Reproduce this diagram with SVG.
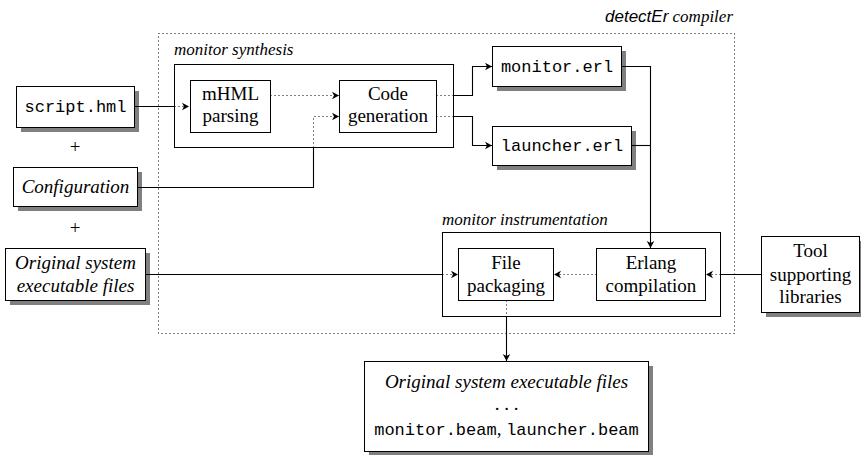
<svg xmlns="http://www.w3.org/2000/svg" width="861" height="455" viewBox="0 0 861 455">
<style>
.box{fill:#fff;stroke:#000;stroke-width:1}
.sh{fill:#808080}
.grp{fill:none;stroke:#000;stroke-width:1}
.outer{fill:none;stroke:#000;stroke-width:1;stroke-dasharray:1 3}
.ln{fill:none;stroke:#000;stroke-width:1.1}
.dt{fill:none;stroke:#000;stroke-width:1;stroke-dasharray:1 3}
.ser{font-family:"Liberation Serif","Times New Roman",serif;font-size:19px;fill:#000}
.it{font-style:italic}
.mono{font-family:"Liberation Mono","Courier New",monospace;font-size:17px;fill:#000}
.lbl{font-family:"Liberation Serif","Times New Roman",serif;font-size:17px;font-style:italic;fill:#000}
.sans{font-family:"Liberation Sans",Arial,sans-serif;font-style:italic}
</style>
<defs>
<marker id="ah" viewBox="-8 -5 10 10" refX="0" refY="0" markerWidth="10" markerHeight="10" markerUnits="userSpaceOnUse" orient="auto">
<path d="M0,0 L-7,-3.8 L-5,0 L-7,3.8 Z" fill="#000"/>
</marker>
</defs>

<g id="compiler">
<rect class="outer" x="158.5" y="33.5" width="576" height="300"/>
<text class="lbl" x="733" y="22" text-anchor="end"><tspan class="sans">detectEr</tspan> compiler</text>
</g>

<g id="monitor-synthesis">
<rect class="grp" x="174.5" y="64.5" width="279" height="83"/>
<text class="lbl" x="174" y="55">monitor synthesis</text>
</g>

<g id="monitor-instrumentation">
<rect class="grp" x="442.5" y="232.5" width="278" height="84"/>
<text class="lbl" x="442" y="225">monitor instrumentation</text>
</g>

<g id="script">
<rect class="sh" x="21" y="91" width="118" height="41"/>
<rect class="box" x="16.5" y="86.5" width="118" height="41"/>
<text class="mono" x="75.5" y="112" text-anchor="middle">script.hml</text>
</g>

<g id="plus1"><text class="ser" x="75" y="153" text-anchor="middle">+</text></g>

<g id="configuration">
<rect class="sh" x="18" y="172" width="124" height="39"/>
<rect class="box" x="13.5" y="167.5" width="124" height="39"/>
<text class="ser it" x="75.5" y="193" text-anchor="middle">Configuration</text>
</g>

<g id="plus2"><text class="ser" x="75" y="234" text-anchor="middle">+</text></g>

<g id="original">
<rect class="sh" x="10" y="253" width="140" height="52"/>
<rect class="box" x="5.5" y="248.5" width="140" height="52"/>
<text class="ser it" x="75.5" y="269" text-anchor="middle">Original system</text>
<text class="ser it" x="75.5" y="292" text-anchor="middle">executable files</text>
</g>

<g id="mhml">
<rect class="box" x="190.5" y="80.5" width="80" height="52"/>
<text class="ser" x="230.5" y="100" text-anchor="middle">mHML</text>
<text class="ser" x="230.5" y="122" text-anchor="middle">parsing</text>
</g>

<g id="codegen">
<rect class="box" x="339.5" y="80.5" width="97" height="52"/>
<text class="ser" x="388" y="100" text-anchor="middle">Code</text>
<text class="ser" x="388" y="122" text-anchor="middle">generation</text>
</g>

<g id="monitor-erl">
<rect class="sh" x="497" y="51" width="129" height="40"/>
<rect class="box" x="492.5" y="46.5" width="129" height="40"/>
<text class="mono" x="557" y="72" text-anchor="middle">monitor.erl</text>
</g>

<g id="launcher-erl">
<rect class="sh" x="497" y="131" width="139" height="39"/>
<rect class="box" x="492.5" y="126.5" width="139" height="39"/>
<text class="mono" x="562" y="151" text-anchor="middle">launcher.erl</text>
</g>

<g id="file-packaging">
<rect class="box" x="458.5" y="248.5" width="95" height="52"/>
<text class="ser" x="506" y="269" text-anchor="middle">File</text>
<text class="ser" x="506" y="292" text-anchor="middle">packaging</text>
</g>

<g id="erlang-compilation">
<rect class="box" x="596.5" y="248.5" width="109" height="52"/>
<text class="ser" x="651" y="269" text-anchor="middle">Erlang</text>
<text class="ser" x="651" y="292" text-anchor="middle">compilation</text>
</g>

<g id="tool">
<rect class="sh" x="766" y="241" width="98" height="76"/>
<rect class="box" x="761.5" y="236.5" width="98" height="76"/>
<text class="ser" x="810.5" y="257" text-anchor="middle">Tool</text>
<text class="ser" x="810.5" y="281" text-anchor="middle">supporting</text>
<text class="ser" x="810.5" y="303" text-anchor="middle">libraries</text>
</g>

<g id="output">
<rect class="sh" x="369" y="366" width="284" height="90"/>
<rect class="box" x="364.5" y="361.5" width="284" height="90"/>
<text class="ser it" x="506.5" y="388" text-anchor="middle">Original system executable files</text>
<text class="ser" x="506.5" y="410" text-anchor="middle">. . .</text>
<text x="506.5" y="435" text-anchor="middle"><tspan class="mono">monitor.beam</tspan><tspan class="ser">, </tspan><tspan class="mono">launcher.beam</tspan></text>
</g>

<g id="connectors">
<path class="ln" d="M134.5,106.5 H174.5"/>
<path class="dt" d="M174.5,106.5 H189" marker-end="url(#ah)"/>
<path class="dt" d="M270.5,95.5 H339" marker-end="url(#ah)"/>
<path class="ln" d="M137.5,187.5 H313.5 V147.5"/>
<path class="dt" d="M313.5,147.5 V116.5 H339" marker-end="url(#ah)"/>
<path class="dt" d="M436.5,95.5 H453.5"/>
<path class="ln" d="M453.5,95.5 H472.5 V66.5 H492" marker-end="url(#ah)"/>
<path class="dt" d="M436.5,116.5 H453.5"/>
<path class="ln" d="M453.5,116.5 H472.5 V145.5 H492" marker-end="url(#ah)"/>
<path class="ln" d="M621.5,66.5 H650.5 V248" marker-end="url(#ah)"/>
<path class="ln" d="M631.5,145.5 H650.5"/>
<path class="ln" d="M145.5,274.5 H442.5"/>
<path class="dt" d="M442.5,274.5 H458" marker-end="url(#ah)"/>
<path class="dt" d="M596.5,274.5 H554" marker-end="url(#ah)"/>
<path class="ln" d="M761.5,274.5 H720.5"/>
<path class="dt" d="M720.5,274.5 H706" marker-end="url(#ah)"/>
<path class="dt" d="M506.5,300.5 V316.5"/>
<path class="ln" d="M506.5,316.5 V361" marker-end="url(#ah)"/>
</g>
</svg>
